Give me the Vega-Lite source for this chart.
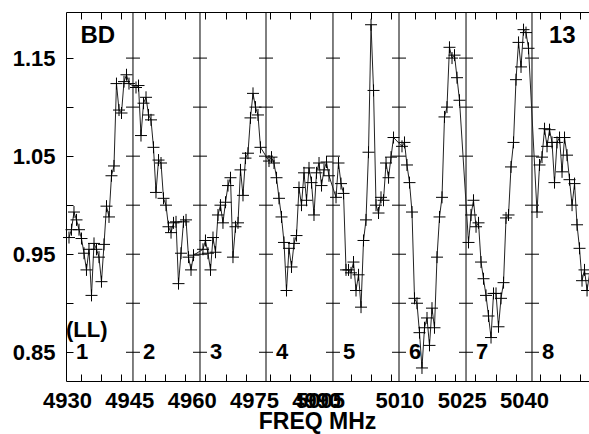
{
  "$schema": "https://vega.github.io/schema/vega-lite/v6.json",
  "width": 523,
  "height": 369,
  "autosize": {"type": "none"},
  "padding": {"left": 66, "top": 12, "right": 0, "bottom": 53},
  "background": "white",
  "view": {"stroke": null},
  "config": {
    "font": "Liberation Sans",
    "axis": {
      "labelFont": "Liberation Sans", "labelFontWeight": "bold", "labelFontSize": 22, "labelColor": "black",
      "titleFont": "Liberation Sans", "titleFontWeight": "bold", "titleFontSize": 23, "titleColor": "black",
      "domainColor": "black", "tickColor": "black", "grid": false, "domainWidth": 1, "tickWidth": 1
    }
  },
  "datasets": {
    "spec": [
      {"f": 4930.48, "a": 0.967}, {"f": 4931.08, "a": 0.975}, {"f": 4931.68, "a": 0.993}, {"f": 4932.29, "a": 0.985},
      {"f": 4932.89, "a": 0.975}, {"f": 4933.49, "a": 0.966}, {"f": 4934.09, "a": 0.951}, {"f": 4934.69, "a": 0.934},
      {"f": 4935.29, "a": 0.955}, {"f": 4935.90, "a": 0.908}, {"f": 4936.50, "a": 0.961}, {"f": 4937.10, "a": 0.955},
      {"f": 4937.70, "a": 0.947}, {"f": 4938.30, "a": 0.922}, {"f": 4938.91, "a": 0.960}, {"f": 4939.51, "a": 0.999},
      {"f": 4940.11, "a": 0.988}, {"f": 4940.71, "a": 1.030}, {"f": 4941.31, "a": 1.040}, {"f": 4941.91, "a": 1.124},
      {"f": 4942.52, "a": 1.097}, {"f": 4943.12, "a": 1.094}, {"f": 4943.72, "a": 1.126}, {"f": 4944.32, "a": 1.133},
      {"f": 4944.92, "a": 1.124},

      {"f": 4946.61, "a": 1.120}, {"f": 4947.21, "a": 1.122}, {"f": 4947.81, "a": 1.071}, {"f": 4948.42, "a": 1.104},
      {"f": 4949.02, "a": 1.110}, {"f": 4949.62, "a": 1.092}, {"f": 4950.22, "a": 1.087}, {"f": 4950.82, "a": 1.059},
      {"f": 4951.42, "a": 1.013}, {"f": 4952.03, "a": 1.046}, {"f": 4952.63, "a": 1.043}, {"f": 4953.23, "a": 1.007},
      {"f": 4953.83, "a": 1.000}, {"f": 4954.43, "a": 0.978}, {"f": 4955.04, "a": 0.972}, {"f": 4955.64, "a": 0.982},
      {"f": 4956.24, "a": 0.983}, {"f": 4956.84, "a": 0.920}, {"f": 4957.44, "a": 0.951}, {"f": 4958.04, "a": 0.983},
      {"f": 4958.65, "a": 0.985}, {"f": 4959.25, "a": 0.947}, {"f": 4959.85, "a": 0.934}, {"f": 4960.45, "a": 0.949},

      {"f": 4962.73, "a": 0.955}, {"f": 4963.33, "a": 0.964}, {"f": 4963.93, "a": 0.951}, {"f": 4964.54, "a": 0.934},
      {"f": 4965.14, "a": 0.967}, {"f": 4965.74, "a": 0.952}, {"f": 4966.34, "a": 0.990}, {"f": 4966.94, "a": 1.000},
      {"f": 4967.54, "a": 0.982}, {"f": 4968.15, "a": 1.003}, {"f": 4968.75, "a": 1.020}, {"f": 4969.35, "a": 1.028},
      {"f": 4969.95, "a": 0.947}, {"f": 4970.55, "a": 0.978}, {"f": 4971.16, "a": 0.982}, {"f": 4971.76, "a": 1.036},
      {"f": 4972.36, "a": 1.010}, {"f": 4972.96, "a": 1.048}, {"f": 4973.56, "a": 1.053}, {"f": 4974.16, "a": 1.089},
      {"f": 4974.77, "a": 1.114}, {"f": 4975.37, "a": 1.100}, {"f": 4975.97, "a": 1.092}, {"f": 4976.57, "a": 1.059},

      {"f": 4978.62, "a": 1.045}, {"f": 4979.22, "a": 1.049}, {"f": 4979.82, "a": 1.043}, {"f": 4980.43, "a": 1.028},
      {"f": 4981.03, "a": 1.007}, {"f": 4981.63, "a": 0.988}, {"f": 4982.23, "a": 0.962}, {"f": 4982.83, "a": 0.913},
      {"f": 4983.43, "a": 0.956}, {"f": 4984.04, "a": 0.937}, {"f": 4984.64, "a": 0.961}, {"f": 4985.24, "a": 0.969},
      {"f": 4985.84, "a": 1.018}, {"f": 4986.44, "a": 1.000}, {"f": 4987.05, "a": 1.033}, {"f": 4987.65, "a": 1.005},
      {"f": 4988.25, "a": 1.038}, {"f": 4988.85, "a": 1.023}, {"f": 4989.45, "a": 0.990}, {"f": 4990.05, "a": 1.033},
      {"f": 4990.66, "a": 1.043}, {"f": 4991.26, "a": 1.020}, {"f": 4991.86, "a": 1.036}, {"f": 4992.46, "a": 1.044},
      {"f": 4993.06, "a": 1.030},

      {"f": 4994.75, "a": 1.008}, {"f": 4995.35, "a": 1.043}, {"f": 4995.95, "a": 1.022}, {"f": 4996.56, "a": 1.012},
      {"f": 4997.16, "a": 0.934}, {"f": 4997.76, "a": 0.934}, {"f": 4998.36, "a": 0.931}, {"f": 4998.96, "a": 0.942},
      {"f": 4999.56, "a": 0.913}, {"f": 5000.17, "a": 0.929}, {"f": 5000.77, "a": 0.896}, {"f": 5001.37, "a": 0.964},
      {"f": 5001.97, "a": 0.985}, {"f": 5002.57, "a": 1.054}, {"f": 5003.18, "a": 1.184}, {"f": 5003.78, "a": 1.117},
      {"f": 5004.38, "a": 1.000}, {"f": 5004.98, "a": 0.992}, {"f": 5005.58, "a": 1.008}, {"f": 5006.18, "a": 1.005},
      {"f": 5006.79, "a": 1.043}, {"f": 5007.39, "a": 1.028}, {"f": 5007.99, "a": 1.049}, {"f": 5008.59, "a": 1.069},

      {"f": 5010.63, "a": 1.060}, {"f": 5011.23, "a": 1.064}, {"f": 5011.83, "a": 1.041}, {"f": 5012.44, "a": 1.023},
      {"f": 5013.04, "a": 0.993}, {"f": 5013.64, "a": 0.905}, {"f": 5014.24, "a": 0.900}, {"f": 5014.84, "a": 0.870},
      {"f": 5015.44, "a": 0.834}, {"f": 5016.05, "a": 0.875}, {"f": 5016.65, "a": 0.885}, {"f": 5017.25, "a": 0.857},
      {"f": 5017.85, "a": 0.895}, {"f": 5018.45, "a": 0.875}, {"f": 5019.06, "a": 0.947}, {"f": 5019.66, "a": 0.988},
      {"f": 5020.26, "a": 1.008}, {"f": 5020.86, "a": 1.090}, {"f": 5021.46, "a": 1.100}, {"f": 5022.06, "a": 1.161},
      {"f": 5022.67, "a": 1.150}, {"f": 5023.27, "a": 1.153}, {"f": 5023.87, "a": 1.130}, {"f": 5024.47, "a": 1.107},

      {"f": 5026.64, "a": 0.962}, {"f": 5027.24, "a": 0.990}, {"f": 5027.84, "a": 1.005}, {"f": 5028.45, "a": 0.978},
      {"f": 5029.05, "a": 0.982}, {"f": 5029.65, "a": 0.942}, {"f": 5030.25, "a": 0.925}, {"f": 5030.85, "a": 0.908},
      {"f": 5031.45, "a": 0.887}, {"f": 5032.06, "a": 0.865}, {"f": 5032.66, "a": 0.910}, {"f": 5033.26, "a": 0.910},
      {"f": 5033.86, "a": 0.876}, {"f": 5034.46, "a": 0.905}, {"f": 5035.07, "a": 0.921}, {"f": 5035.67, "a": 0.987},
      {"f": 5036.27, "a": 0.990}, {"f": 5036.87, "a": 1.039}, {"f": 5037.47, "a": 1.064}, {"f": 5038.07, "a": 1.128},
      {"f": 5038.68, "a": 1.166}, {"f": 5039.28, "a": 1.141}, {"f": 5039.88, "a": 1.179}, {"f": 5040.48, "a": 1.176},
      {"f": 5041.08, "a": 1.160},

      {"f": 5043.13, "a": 0.993}, {"f": 5043.73, "a": 1.041}, {"f": 5044.33, "a": 1.049}, {"f": 5044.94, "a": 1.078},
      {"f": 5045.54, "a": 1.060}, {"f": 5046.14, "a": 1.077}, {"f": 5046.74, "a": 1.064}, {"f": 5047.34, "a": 1.023},
      {"f": 5047.94, "a": 1.064}, {"f": 5048.55, "a": 1.069}, {"f": 5049.15, "a": 1.034}, {"f": 5049.75, "a": 1.069},
      {"f": 5050.35, "a": 1.051}, {"f": 5050.95, "a": 1.026}, {"f": 5051.56, "a": 1.000}, {"f": 5052.16, "a": 1.022},
      {"f": 5052.76, "a": 0.980}, {"f": 5053.36, "a": 0.956}, {"f": 5053.96, "a": 0.923}, {"f": 5054.56, "a": 0.934},
      {"f": 5055.17, "a": 0.913}, {"f": 5055.77, "a": 0.930}
    ],
    "seps": [
      {"f": 4945.88, "a": [0.85, 0.90, 0.95, 1.00, 1.05, 1.10, 1.15]},
      {"f": 4962.01, "a": [0.85, 0.90, 0.95, 1.00, 1.05, 1.10, 1.15]},
      {"f": 4977.90, "a": [0.85, 0.90, 0.95, 1.00, 1.05, 1.10, 1.15]},
      {"f": 4994.02, "a": [0.85, 0.90, 0.95, 1.00, 1.05, 1.10, 1.15]},
      {"f": 5009.91, "a": [0.85, 0.90, 0.95, 1.00, 1.05, 1.10, 1.15]},
      {"f": 5026.04, "a": [0.85, 0.90, 0.95, 1.00, 1.05, 1.10, 1.15]},
      {"f": 5041.92, "a": [0.85, 0.90, 0.95, 1.00, 1.05, 1.10, 1.15]}
    ],
    "panels": [
      {"f": 4929.76, "a": 0.85, "t": "1"},
      {"f": 4945.88, "a": 0.85, "t": "2"},
      {"f": 4962.01, "a": 0.85, "t": "3"},
      {"f": 4977.90, "a": 0.85, "t": "4"},
      {"f": 4994.02, "a": 0.85, "t": "5"},
      {"f": 5009.91, "a": 0.85, "t": "6"},
      {"f": 5026.04, "a": 0.85, "t": "7"},
      {"f": 5041.92, "a": 0.85, "t": "8"}
    ],
    "big": [
      {"f": 4933.25, "a": 1.1724, "t": "BD"},
      {"f": 5046.01, "a": 1.1724, "t": "13"}
    ],
    "pol": [
      {"f": 4929.76, "a": 0.8724, "t": "(LL)"}
    ]
  },
  "resolve": {"axis": {"x": "independent"}},
  "layer": [
    {
      "data": {"name": "seps"},
      "mark": {"type": "rule", "stroke": "black", "strokeWidth": 1},
      "encoding": {
        "x": {
          "field": "f", "type": "quantitative",
          "scale": {"domain": [4929.76, 5055.64], "nice": false, "zero": false},
          "axis": {
            "orient": "bottom", "values": [4930, 4945, 4960, 4975, 4990, 4990.9, 5010, 5025, 5040],
            "labelExpr": "datum.value == 4990.9 ? '5005' : format(datum.value, 'd')",
            "ticks": false, "domain": false, "labelOverlap": false, "labelFlush": false, "labelBound": false,
            "labelPadding": 9, "title": "FREQ MHz", "titleX": 251, "titleY": 47, "titleBaseline": "alphabetic", "titleAlign": "center", "titleAnchor": null
          }
        }
      }
    },
    {
      "data": {"name": "seps"},
      "transform": [{"flatten": ["a"]}],
      "mark": {"type": "tick", "orient": "horizontal", "size": 14, "thickness": 1, "color": "black", "opacity": 1},
      "encoding": {
        "x": {"field": "f", "type": "quantitative", "axis": null, "scale": {"domain": [4929.76, 5055.64], "nice": false, "zero": false}},
        "y": {"field": "a", "type": "quantitative", "scale": {"domain": [0.8207, 1.197], "nice": false, "zero": false}}
      }
    },
    {
      "data": {"name": "spec"},
      "mark": {"type": "line", "stroke": "#222", "strokeWidth": 1},
      "encoding": {
        "x": {
          "field": "f", "type": "quantitative",
          "scale": {"domain": [4929.76, 5055.64], "nice": false, "zero": false},
          "axis": {
            "orient": "bottom", "labels": false, "title": null, "tickSize": -7,
            "values": [4933.37, 4938.18, 4942.99, 4948.77, 4953.59, 4958.40, 4963.21, 4968.27, 4973.08, 4978.86, 4983.67, 4988.49, 4998.36, 5003.17, 5007.98, 5013.76, 5018.57, 5023.39, 5028.20, 5033.26, 5038.07, 5043.85, 5048.66, 5053.48]
          }
        },
        "y": {
          "field": "a", "type": "quantitative",
          "scale": {"domain": [0.8207, 1.197], "nice": false, "zero": false},
          "axis": {
            "orient": "left", "title": null, "tickSize": -7, "labelPadding": 18,
            "values": [0.85, 0.90, 0.95, 1.00, 1.05, 1.10, 1.15],
            "labelExpr": "round(datum.value*20) % 2 == 1 ? format(datum.value, '.2f') : ''"
          }
        }
      }
    },
    {
      "data": {"name": "spec"},
      "mark": {"type": "point", "shape": "M-1,0H1M0,-1V1", "filled": false, "stroke": "black", "strokeWidth": 1, "size": 144, "opacity": 1},
      "encoding": {
        "x": {
          "field": "f", "type": "quantitative",
          "scale": {"domain": [4929.76, 5055.64], "nice": false, "zero": false},
          "axis": {
            "orient": "top", "labels": false, "title": null, "tickSize": -7,
            "values": [4933.37, 4938.18, 4942.99, 4948.77, 4953.59, 4958.40, 4963.21, 4968.27, 4973.08, 4978.86, 4983.67, 4988.49, 4998.36, 5003.17, 5007.98, 5013.76, 5018.57, 5023.39, 5028.20, 5033.26, 5038.07, 5043.85, 5048.66, 5053.48]
          }
        },
        "y": {"field": "a", "type": "quantitative"}
      }
    },
    {
      "data": {"name": "panels"},
      "mark": {"type": "text", "align": "left", "baseline": "middle", "dx": 10, "font": "Liberation Sans", "fontWeight": "bold", "fontSize": 22, "color": "black"},
      "encoding": {
        "x": {"field": "f", "type": "quantitative", "axis": null},
        "y": {"field": "a", "type": "quantitative"},
        "text": {"field": "t"}
      }
    },
    {
      "data": {"name": "big"},
      "mark": {"type": "text", "align": "left", "baseline": "middle", "font": "Liberation Sans", "fontWeight": "bold", "fontSize": 24, "color": "black"},
      "encoding": {
        "x": {"field": "f", "type": "quantitative", "axis": null},
        "y": {"field": "a", "type": "quantitative"},
        "text": {"field": "t"}
      }
    },
    {
      "data": {"name": "pol"},
      "mark": {"type": "text", "align": "left", "baseline": "middle", "font": "Liberation Sans", "fontWeight": "bold", "fontSize": 22, "color": "black"},
      "encoding": {
        "x": {"field": "f", "type": "quantitative", "axis": null},
        "y": {"field": "a", "type": "quantitative"},
        "text": {"field": "t"}
      }
    }
  ]
}
